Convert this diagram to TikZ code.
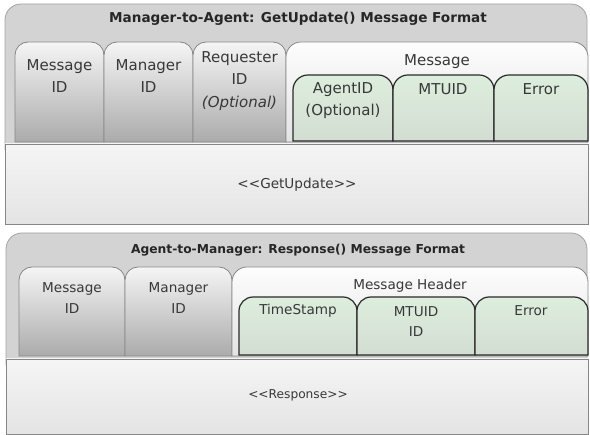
\documentclass[tikz,border=0pt]{standalone}
\usepackage{fontspec}
\setmainfont{DejaVu Sans}
\definecolor{outerfill}{HTML}{D3D3D3}
\definecolor{outerline}{HTML}{A3A3A3}
\definecolor{tabtop}{HTML}{F5F5F5}
\definecolor{tabbot}{HTML}{ABABAB}
\definecolor{tabline}{HTML}{878787}
\definecolor{msgtop}{HTML}{FDFDFD}
\definecolor{msgbot}{HTML}{E3E3E3}
\definecolor{grtop}{HTML}{DDEEDD}
\definecolor{grbot}{HTML}{D3DDD3}
\definecolor{grline}{HTML}{2A2A2A}
\definecolor{bodytop}{HTML}{F5F5F5}
\definecolor{bodybot}{HTML}{E4E4E4}
\definecolor{txt}{HTML}{383838}
% style, x1, y1, x2, y2, radius
\newcommand\toprounded[6]{%
  \path[#1] (#2,#5) [rounded corners=#6] -- (#2,#3) -- (#4,#3) [sharp corners] -- (#4,#5) -- cycle;}
\begin{document}
\begin{tikzpicture}[x=1pt,y=-1pt,
  outerbox/.style={fill=outerfill,draw=outerline,line width=0.8pt},
  graytab/.style={top color=tabtop,bottom color=tabbot,draw=tabline,line width=0.8pt},
  msgbox/.style={top color=msgtop,bottom color=msgbot,draw=tabline,line width=0.8pt},
  greentab/.style={top color=grtop,bottom color=grbot,draw=grline,line width=1.2pt},
  bodybox/.style={top color=bodytop,bottom color=bodybot,draw=tabline,line width=0.8pt},
  titletext/.style={text=black!85,font=\bfseries\fontsize{13.6}{17}\selectfont,inner sep=0pt},
  titletextb/.style={text=black!85,font=\bfseries\fontsize{12.3}{15}\selectfont,inner sep=0pt},
  lbl/.style={text=txt,align=center,inner sep=0pt,font=\fontsize{15}{22.5}\selectfont},
  lblb/.style={text=txt,align=center,inner sep=0pt,font=\fontsize{13.6}{20.5}\selectfont},
  bodytext/.style={text=txt,inner sep=0pt,font=\fontsize{13.6}{16}\selectfont},
  bodytextb/.style={text=txt,inner sep=0pt,font=\fontsize{12.2}{14}\selectfont}]
\useasboundingbox (0,0) rectangle (590,435);
\fill[white] (0,0) rectangle (590,435);

% ---------------- top diagram ----------------
\toprounded{outerbox}{5}{4}{587}{150}{16}
\node[titletext] (t1) at (298,19) {Manager-to-Agent: GetUpdate() Message Format};
\toprounded{graytab}{15}{42}{104}{142}{13}
\toprounded{graytab}{104}{42}{193}{142}{13}
\toprounded{graytab}{193}{42}{286}{142}{13}
\toprounded{msgbox}{286}{42}{588}{142}{15}
\toprounded{greentab}{293}{75}{393}{141}{15}
\toprounded{greentab}{393}{75}{494}{141}{15}
\toprounded{greentab}{494}{75}{588}{141}{15}
\node[lbl] (a1) at (59.5,76) {Message\\ID};
\node[lbl] (a2) at (148.5,76) {Manager\\ID};
\node[lbl] (a3) at (239.5,81) {Requester\\ID\\\itshape (Optional)};
\node[lbl] (a4) at (437,62) {Message};
\node[lbl] (a5) at (343,100.5) {AgentID\\(Optional)};
\node[lbl] (a6) at (443,89) {MTUID};
\node[lbl] (a7) at (541,89) {Error};
\path[bodybox] (5,144) rectangle (588,224);
\node[bodytext] (g1) at (297,185) {<{}<GetUpdate>{}>};

% ---------------- bottom diagram ----------------
\toprounded{outerbox}{6}{233}{587}{365}{16}
\node[titletextb] (t2) at (298,250) {Agent-to-Manager: Response() Message Format};
\toprounded{graytab}{19}{267}{125}{356}{13}
\toprounded{graytab}{125}{267}{232}{356}{13}
\toprounded{msgbox}{232}{267}{588}{356}{15}
\toprounded{greentab}{239}{297}{357}{355}{14}
\toprounded{greentab}{357}{297}{475}{355}{14}
\toprounded{greentab}{475}{297}{588}{355}{14}
\node[lblb] (b1) at (72,298) {Message\\ID};
\node[lblb] (b2) at (178.5,298) {Manager\\ID};
\node[lblb] (b3) at (410,286) {Message Header};
\node[lblb] (b4) at (298,311) {TimeStamp};
\node[lblb] (b5) at (416,321.5) {MTUID\\ID};
\node[lblb] (b6) at (531,311) {Error};
\path[bodybox] (6,359) rectangle (588,434);
\node[bodytextb] (r1) at (298,395) {<{}<Response>{}>};
\end{tikzpicture}
\end{document}
